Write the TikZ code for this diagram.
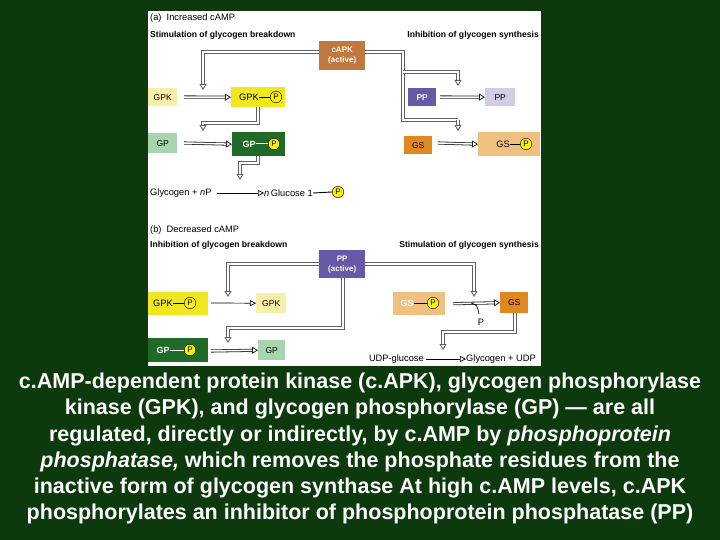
\documentclass[tikz,border=0pt]{standalone}
\usepackage{fontspec}
\setmainfont{Liberation Sans}
\usetikzlibrary{arrows.meta}
\definecolor{bg}{HTML}{0D3A0D}
\definecolor{capk}{HTML}{C0783E}
\definecolor{ylw}{HTML}{F0E81E}
\definecolor{lylw}{HTML}{F8F0A8}
\definecolor{dgr}{HTML}{1E6A26}
\definecolor{lgr}{HTML}{A8D4AE}
\definecolor{pur}{HTML}{6858A8}
\definecolor{lpur}{HTML}{D4CCE4}
\definecolor{org}{HTML}{E08820}
\definecolor{lorg}{HTML}{F0C080}
\begin{document}
\begin{tikzpicture}[x=1pt,y=-1pt,
  box/.style={rectangle,inner sep=0pt,anchor=north west,font=\fontsize{8.5}{9}\selectfont},
  hd/.style={font=\bfseries\fontsize{8.6}{9}\selectfont,inner sep=0pt},
  lab/.style={font=\fontsize{9.3}{10}\selectfont,inner sep=0pt},
  ph/.style={circle,fill=yellow,draw=black,line width=0.4pt,inner sep=0pt,minimum size=11.5pt,font=\fontsize{8}{8}\selectfont},
  conn/.style={draw=gray!75!black,line width=0.9pt,double=white,double distance=1.8pt,-{Triangle[open,length=6pt,width=7pt,fill=white]}},
  cline/.style={draw=gray!75!black,line width=0.9pt,double=white,double distance=1.8pt},
  ar/.style={draw=black!85,line width=0.8pt,double=white,double distance=1.5pt,-{Triangle[open,length=6pt,width=7pt,fill=white]}},
  thin/.style={draw=black,line width=0.7pt,-{Triangle[open,length=6pt,width=6pt]}},
  captxt/.style={font=\bfseries\fontsize{21.5}{24}\selectfont,text=white,inner sep=0pt}]
\fill[bg] (0,0) rectangle (720,540);
\fill[white] (148,11) rectangle (541,366);
% ---- (a)
\node[lab,anchor=west] (ta) at (150,18) {(a)\ \ Increased cAMP};
\node[hd,anchor=west] (ha1) at (150,35) {Stimulation of glycogen breakdown};
\node[hd,anchor=east] (ha2) at (539,35) {Inhibition of glycogen synthesis};
\node[box,fill=capk,text=white,minimum width=46pt,minimum height=29pt,align=center,font=\bfseries\fontsize{8}{10}\selectfont] (capk) at (319,41) {cAPK\\(active)};
\node[box,fill=lylw,minimum width=29pt,minimum height=18pt] (gpk) at (148,88) {GPK};
\node[box,fill=ylw,minimum width=54pt,minimum height=20pt] (gpkp) at (231,87) {};
\node[lab] (gpkpt) at (249,97) {GPK};
\node[ph] (p1) at (276,97) {P};
\draw[line width=0.9pt] (gpkpt.east) -- (p1.west);
\node[box,fill=lgr,minimum width=29pt,minimum height=20pt] (gp) at (148,133) {GP};
\node[box,fill=dgr,minimum width=53pt,minimum height=24pt] (gpp) at (232,132) {};
\node[lab,text=white,font=\bfseries\fontsize{9}{10}\selectfont] (gppt) at (249,144) {GP};
\node[ph] (p2) at (274,144) {P};
\draw[white,line width=1pt] (gppt.east) -- (p2.west);
\node[lab,anchor=west] (glyc) at (150,193) {Glycogen + \textit{n}P};
\node[lab,anchor=west] (glu) at (264,193) {\textit{n}\,Glucose 1};
\node[ph] (p3) at (338,192) {P};
\draw[line width=0.9pt] (glu.east) -- (p3.west);
\node[box,fill=pur,text=white,minimum width=28pt,minimum height=18pt,font=\bfseries\fontsize{8.5}{9}\selectfont] (pp) at (408,88) {PP};
\node[box,fill=lpur,minimum width=30pt,minimum height=18pt] (ppl) at (485,88) {PP};
\node[box,fill=org,minimum width=28pt,minimum height=18pt] (gs) at (404,136) {GS};
\node[box,fill=lorg,minimum width=62pt,minimum height=24pt] (gsp) at (478,132) {};
\node[lab] (gspt) at (503,144) {GS};
\node[ph] (p4) at (526,144) {P};
\draw[line width=0.9pt] (gspt.east) -- (p4.west);
\draw[ar] (184,97) coordinate (a1) -- (gpkp.west);
\draw[ar] (184,143) coordinate (a2) -- (gpp.west);
\draw[thin] (glyc.east)++(5,0) -- (glu.west);
\draw[ar] (440,97) -- (ppl.west);
\draw[ar] (438,143) -- (gsp.west);
\draw[conn] (capk.west|-0,52) -| (203,90);
\draw[cline] (capk.east|-0,52) -- (403,52) -- (403,120) -- (458,120);
\draw[conn] (458,120) -- (458,131);
\draw[conn] (403,72) -| (458,86);
\draw[conn] (258,107) -- (258,123) -| (203,131);
\draw[conn] (258,156) -- (258,163) -| (240,180);
% ---- (b)
\node[lab,anchor=west] (tb) at (150,230) {(b)\ \ Decreased cAMP};
\node[hd,anchor=west] (hb1) at (150,245) {Inhibition of glycogen breakdown};
\node[hd,anchor=east] (hb2) at (539,245) {Stimulation of glycogen synthesis};
\node[box,fill=pur,text=white,minimum width=46pt,minimum height=28pt,align=center,font=\bfseries\fontsize{8}{10}\selectfont] (ppa) at (319,250) {PP\\(active)};
\node[box,fill=ylw,minimum width=60pt,minimum height=23pt] (gpkp2) at (148,292) {};
\node[lab] (gpkpt2) at (163,303) {GPK};
\node[ph] (p5) at (190,303) {P};
\draw[line width=0.9pt] (gpkpt2.east) -- (p5.west);
\node[box,fill=lylw,minimum width=30pt,minimum height=20pt] (gpk2) at (256,293) {GPK};
\node[box,fill=dgr,minimum width=60pt,minimum height=24pt] (gpp2) at (148,338) {};
\node[lab,text=white,font=\bfseries\fontsize{9}{10}\selectfont] (gppt2) at (163,350) {GP};
\node[ph] (p6) at (190,350) {P};
\draw[white,line width=1pt] (gppt2.east) -- (p6.west);
\node[box,fill=lgr,minimum width=27pt,minimum height=20pt] (gp2) at (258,340) {GP};
\node[box,fill=lorg,minimum width=52pt,minimum height=23pt] (gsp2) at (393,292) {};
\node[lab,text=white,font=\bfseries\fontsize{9}{10}\selectfont] (gspt2) at (407,303) {GS};
\node[ph] (p7) at (433,303) {P};
\draw[line width=0.9pt] (gspt2.east) -- (p7.west);
\node[box,fill=org,minimum width=28pt,minimum height=21pt] (gs2) at (500,292) {GS};
\node[lab] (pfree) at (481,322) {P};
\node[lab,anchor=east] (udp) at (424,359) {UDP-glucose};
\node[lab,anchor=west] (glyc2) at (466,359) {Glycogen + UDP};
\draw[thin] (211,303) -- (gpk2.west);
\draw[ar] (211,351) -- (gp2.west);
\draw[ar] (gsp2.east)++(8,0) -- (gs2.west);
\draw[line width=0.7pt] (471,303) .. controls (477,305) .. (479,314);
\draw[thin] (udp.east)++(2,0) -- (glyc2.west);
\draw[conn] (ppa.west|-0,264) -| (228,297);
\draw[conn] (ppa.east|-0,264) -| (474,297);
\draw[conn] (343,278) -- (343,328) -| (228,343);
\draw[conn] (515,313) -- (515,332) -| (443,350);
% ---- caption
\node[captxt] (c1) at (360,383) {c.AMP-dependent protein kinase (c.APK), glycogen phosphorylase};
\node[captxt] (c2) at (360,409) {kinase (GPK), and glycogen phosphorylase (GP) — are all};
\node[captxt] (c3) at (360,436) {regulated, directly or indirectly, by c.AMP by \textit{phosphoprotein}};
\node[captxt] (c4) at (360,462) {\textit{phosphatase,} which removes the phosphate residues from the};
\node[captxt] (c5) at (360,488) {inactive form of glycogen synthase At high c.AMP levels, c.APK};
\node[captxt] (c6) at (360,514) {phosphorylates an inhibitor of phosphoprotein phosphatase (PP)};
\end{tikzpicture}
\end{document}
